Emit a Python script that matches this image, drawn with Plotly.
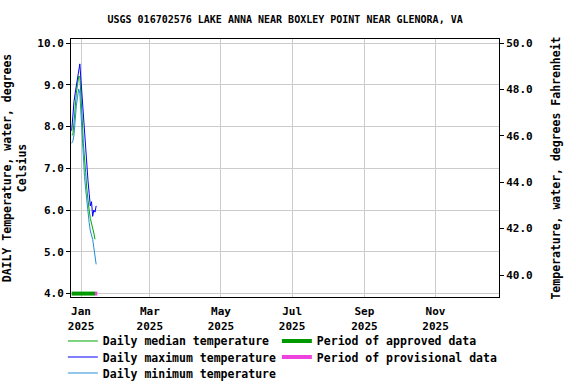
import plotly.graph_objects as go
import pandas as pd

dates = pd.date_range("2024-12-24", "2025-01-14", freq="D")
tmax = [7.9, 8.4, 8.6, 8.8, 9.0, 9.2, 9.4, 9.5, 9.1, 8.7, 8.1, 7.7, 7.3, 7.0, 6.7, 6.4, 6.1, 6.2, 5.85, 6.0, 5.95, 6.1]
tmin = [7.6, 7.65, 7.8, 8.2, 8.5, 8.7, 8.9, 8.8, 8.3, 7.6, 7.2, 6.8, 6.5, 6.2, 6.0, 5.7, 5.5, 5.4, 5.3, 5.1, 4.9, 4.7]
tmed = [7.8, 7.8, 8.1, 8.5, 8.8, 9.0, 9.2, 9.2, 8.8, 8.2, 7.6, 7.3, 6.9, 6.5, 6.2, 6.0, 5.8, 5.7, 5.55, 5.45, 5.3]
approved_period = ["2024-12-24", "2025-01-13"]
provisional_period = ["2025-01-13", "2025-01-15"]
period_level = 4.0

FONT = "DejaVu Sans Mono"
C_MED = "#00a800"
C_MAX = "#0000ff"
C_MIN = "#1e8fd6"
C_APP = "#009900"
C_PRO = "#ee44dd"

fig = go.Figure()
fig.add_trace(go.Scatter(x=dates[:len(tmed)], y=tmed, mode="lines", line=dict(color=C_MED, width=1),
                         name="Daily median temperature", legend="legend"))
fig.add_trace(go.Scatter(x=dates, y=tmax, mode="lines", line=dict(color=C_MAX, width=1),
                         name="Daily maximum temperature", legend="legend2"))
fig.add_trace(go.Scatter(x=dates, y=tmin, mode="lines", line=dict(color=C_MIN, width=1),
                         name="Daily minimum temperature", legend="legend3"))
fig.add_trace(go.Scatter(x=approved_period, y=[period_level] * 2, mode="lines", line=dict(color=C_APP, width=4),
                         name="Period of approved data", legend="legend4"))
fig.add_trace(go.Scatter(x=provisional_period, y=[period_level] * 2, mode="lines", line=dict(color=C_PRO, width=4),
                         name="Period of provisional data", legend="legend5"))
# invisible trace for Fahrenheit axis
fig.add_trace(go.Scatter(x=[dates[0]], y=[tmax[0] * 1.8 + 32], yaxis="y2", mode="markers",
                         marker=dict(opacity=0), showlegend=False, hoverinfo="skip"))

ylo, yhi = 3.918, 10.096
font = dict(family=FONT, size=11.5, color="black", weight="bold")
tfont = dict(family=FONT, size=11, color="black", weight="bold")


def leg(x, y):
    return dict(x=x, y=y, xanchor="left", yanchor="middle", orientation="v",
                bgcolor="rgba(0,0,0,0)", font=font, itemwidth=30, borderwidth=0)


fig.update_layout(
    width=576, height=384,
    margin=dict(l=71, r=77, t=39, b=87, autoexpand=False),
    paper_bgcolor="white", plot_bgcolor="white",
    font=font,
    title=dict(text="USGS 016702576 LAKE ANNA NEAR BOXLEY POINT NEAR GLENORA, VA",
               x=0.495, xanchor="center", y=0.95, yanchor="middle",
               font=dict(family=FONT, size=10, color="black", weight="bold")),
    xaxis=dict(type="date", range=["2024-12-23 10:00", "2025-12-25 10:00"],
               tick0="2025-01-01", dtick="M2", tickformat="%b<br>%Y",
               showgrid=True, gridcolor="#cccccc", gridwidth=1,
               showline=True, linecolor="black", linewidth=1, mirror=True,
               ticks="", tickfont=tfont, zeroline=False, automargin=False,
               ticklabelstandoff=4),
    yaxis=dict(range=[ylo, yhi], dtick=1.0, tickformat=".1f",
               showgrid=True, gridcolor="#cccccc", gridwidth=1,
               showline=True, linecolor="black", linewidth=1,
               ticks="outside", ticklen=4, tickcolor="black", tickfont=tfont, zeroline=False,
               automargin=False,
               title=dict(text="DAILY Temperature, water, degrees<br>Celsius", font=font, standoff=10)),
    yaxis2=dict(range=[ylo * 1.8 + 32, yhi * 1.8 + 32], dtick=2.0, tickformat=".1f",
                overlaying="y", side="right", showgrid=False,
                showline=True, linecolor="black", linewidth=1,
                ticks="outside", ticklen=4, tickcolor="black", tickfont=tfont, zeroline=False,
                automargin=False,
                title=dict(text="Temperature, water, degrees Fahrenheit", font=font, standoff=20)),
    legend=leg(-0.019, -0.1705),
    legend2=leg(-0.019, -0.2326),
    legend3=leg(-0.019, -0.2946),
    legend4=leg(0.481, -0.1705),
    legend5=leg(0.481, -0.2326),
    showlegend=True,
)
fig.write_html("out.html", config={"displayModeBar": False},
               post_script="document.body.style.margin='0px';document.body.style.overflow='hidden';")
